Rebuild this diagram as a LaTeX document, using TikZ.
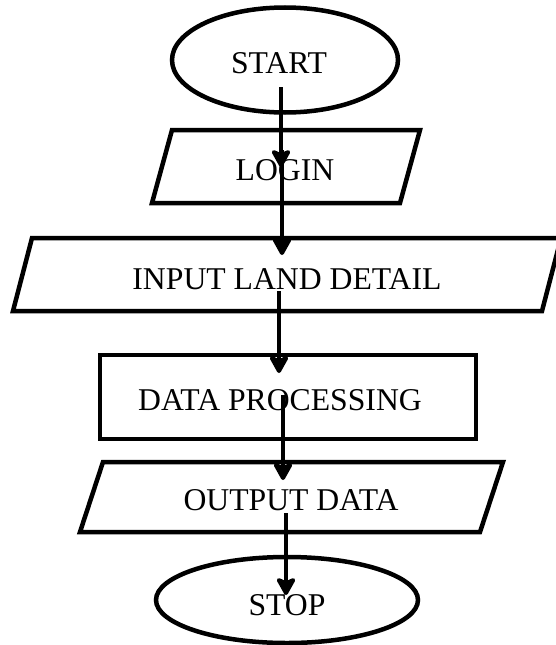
\documentclass[tikz,border=0pt]{standalone}
\usepackage{fontspec}
\setmainfont{Liberation Serif}
\usetikzlibrary{arrows.meta,shapes.geometric}
\begin{document}
\begin{tikzpicture}[x=1pt,y=-1pt,
  shapeline/.style={line width=4.5pt, line join=miter},
  lbl/.style={font=\fontsize{31.7}{36}\selectfont, inner sep=0pt, anchor=base},
  flow/.style={line width=4pt, -{Stealth[length=21pt,width=23pt,inset=5pt,round]}}]
\useasboundingbox (0,0) rectangle (555,645);
% shapes
\node[draw, ellipse, shapeline, minimum width=226pt, minimum height=105pt, inner sep=0pt] (start) at (285,60) {};
\draw[shapeline] (172,130) -- (420,130) -- (400,203) -- (152,203) -- cycle;
\draw[shapeline] (32,238) -- (561,238) -- (542,311) -- (13,311) -- cycle;
\node[draw, rectangle, shapeline, minimum width=376pt, minimum height=84pt, inner sep=0pt] (proc) at (288,397) {};
\draw[shapeline] (103,462) -- (503,462) -- (480,532) -- (80,532) -- cycle;
\node[draw, ellipse, shapeline, minimum width=262pt, minimum height=86pt, inner sep=0pt] (stop) at (287,600) {};
% labels
\node[lbl] (tstart) at (279,73) {START};
\node[lbl] (tlogin) at (285,180) {LOGIN};
\node[lbl] (tinput) at (287,289) {INPUT LAND DETAIL};
\node[lbl] (tproc) at (280,410) {DATA PROCESSING};
\node[lbl] (tout) at (291,510) {OUTPUT DATA};
\node[lbl] (tstop) at (287,615) {STOP};
% connector ends
\coordinate (a1s) at (281,87);  \coordinate (a1e) at (281,167);
\coordinate (a2s) at (282,150); \coordinate (a2e) at (282,255);
\coordinate (a3s) at (279,291); \coordinate (a3e) at (279,373);
\coordinate (a4s) at (283,395); \coordinate (a4e) at (283,480);
\coordinate (a5s) at (286,513); \coordinate (a5e) at (286,595);
\draw[flow] (a1s) -- (a1e);
\draw[flow] (a2s) -- (a2e);
\draw[flow] (a3s) -- (a3e);
\draw[flow] (a4s) -- (a4e);
\draw[flow] (a5s) -- (a5e);
\end{tikzpicture}
\end{document}
